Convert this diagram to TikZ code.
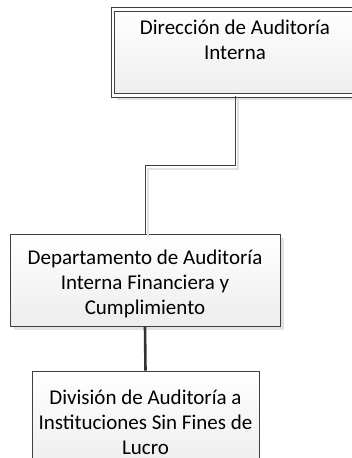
\documentclass[tikz,border=0pt]{standalone}
\usepackage{fontspec}
\setmainfont{Carlito}
\usepackage{tikz}
\usetikzlibrary{positioning,shadows}
\definecolor{ink}{HTML}{404040}
\definecolor{shadowgray}{HTML}{E2E2E2}
\newcommand{\topgap}[1]{\rule{0pt}{#1}}
\tikzset{
  unit/.style={rectangle, draw=ink, line width=0.9pt, top color=white, bottom color=black!7,
    align=center, font=\fontsize{21}{25}\selectfont, text=black, inner sep=0pt},
  unitshadow/.style={drop shadow={shadow xshift=4pt, shadow yshift=-4pt, fill=shadowgray, opacity=1}},
  link/.style={draw=ink, line width=1pt},
}
\begin{document}
\begin{tikzpicture}[x=1pt,y=-1pt]
\useasboundingbox (0,0) rectangle (352,458);
\clip (0,0) rectangle (352,458);
\node[unit, unitshadow, double=white, double distance=2.6pt, line width=0.8pt,
      minimum width=244pt, minimum height=86pt] (dir) at (235,52.5)
  {Dirección de Auditoría\\ Interna\\[-7pt]\strut};
\node[unit, unitshadow, minimum width=270pt, minimum height=92pt] (dept) at (145,280)
  {\topgap{23pt}Departamento de Auditoría\\ Interna Financiera y\\ Cumplimiento};
\node[unit, minimum width=227pt, minimum height=100pt] (div) at (145.5,421)
  {\topgap{18pt}División de Auditoría a\\ Instituciones Sin Fines de\\ Lucro};
% connectors
\draw[draw=shadowgray, line width=1.4pt, transform canvas={shift={(3pt,-3pt)}}] (dir.south) -- ++(0,70) -| (dept.north);
\draw[link] (dir.south) -- ++(0,70) -| (dept.north);
\draw[link, draw=black!80, line width=2.6pt] (dept.south) -- (div.north);
\end{tikzpicture}
\end{document}
